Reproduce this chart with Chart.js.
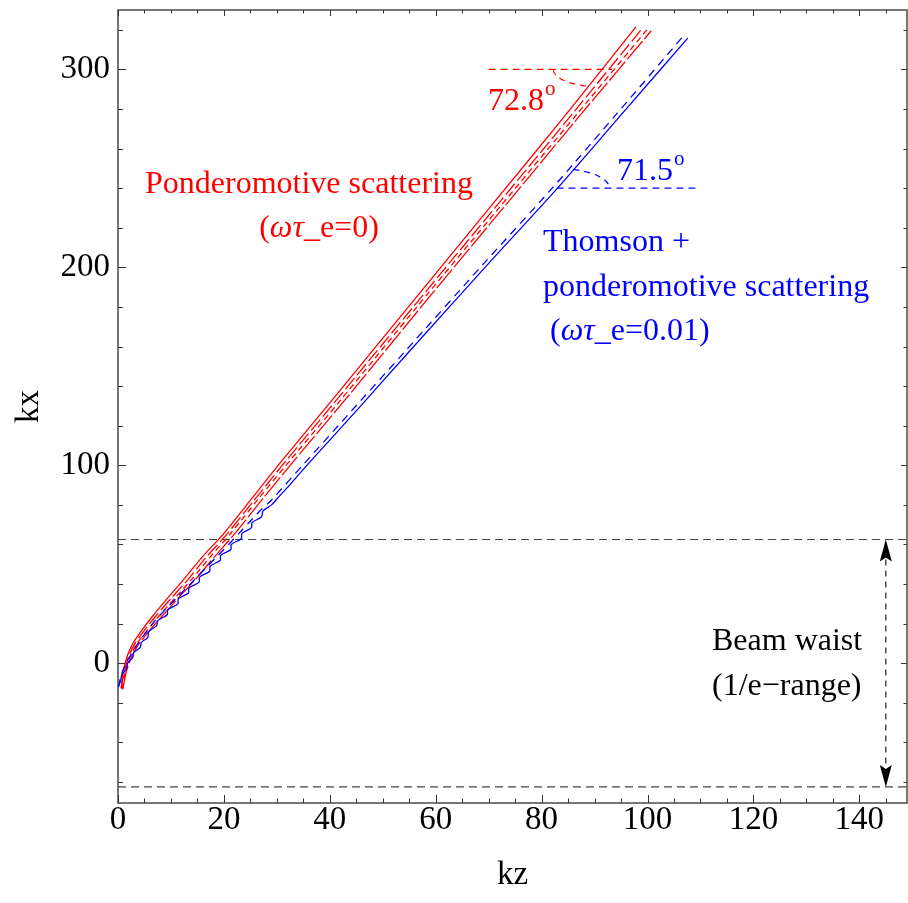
<!DOCTYPE html>
<html><head><meta charset="utf-8">
<script src="https://cdn.jsdelivr.net/npm/chart.js@4.4.0/dist/chart.umd.min.js"></script>
<style>html,body{margin:0;padding:0;background:#fff;}canvas{display:block}</style>
</head><body>
<canvas id="c" width="908" height="903"></canvas>
<script>
// ---- data (kz, kx) ----
const redSolidKx = [-12.5,-4,4,10,16,24,33,42,54,65,83,102.5,131.5,180.5,229.5,278.5,321.5];
const redSolidKz = [0.6,1.0,1.8,2.8,4.3,6.6,9.4,12.3,16,19.8,25.2,31,40,55,70,85,97.8];
const redDashAKx = [-12.8,-4,4,10,16,24,33,42,54,65,83,102.5,131.5,180.5,229.5,278.5,321];
const redDashAKz = [0.6,1.2,2.1,3.2,4.8,7.2,10.1,13.1,16.8,20.5,25.9,31.8,40.8,55.9,71.0,86.1,99.1];
const redDashBKx = [-13,-4,4,10,16,24,33,42,54,65,83,102.5,131.5,180.5,229.5,278.5,320];
const redDashBKz = [0.8,1.4,2.4,3.6,5.3,7.8,10.8,13.8,17.5,21.1,26.5,32.5,41.6,56.6,71.8,87.0,99.9];
const redDashCKx = [-13.2,-4,4,10,16,24,33,42,54,65,83,102.5,131.5,180.5,229.5,278.5,319.5];
const redDashCKz = [0.9,1.6,2.7,4.0,5.8,8.4,11.4,14.5,18.3,21.9,27.3,33.3,42.4,57.4,72.6,87.8,100.7];
const blueSolidKx = [-12,-9,-6,-3,0,3,5.5,8,10.5,13,16,19,21.5,24.5,27,30,32.5,35.5,38,41,43.5,46.5,49,52,54.5,57.5,60,63,65.5,68.5,71,74,77,80,83,90,101,127.5,157.5,202,240,277,315.8];
const blueSolidKz = [0,0.5,0.7,1.6,1.8,2.8,3.0,4.2,4.4,5.6,5.8,7.3,7.5,9.3,9.4,11.3,11.4,13.3,13.4,15.3,15.4,17.3,17.4,19.3,19.4,21.3,21.4,23.3,23.4,25.2,25.3,27.1,27.4,29.0,30.0,32.4,36.0,45,55,70,83,95,107.6];
const blueDashKx = [-12,-6,0,5,10.5,16,21.5,27,32.5,38,43.5,49,54.5,60,65.5,71,77,82.5,101,127.5,157.5,202,240,277,317.3];
const blueDashKz = [0.1,0.6,1.5,2.6,3.9,5.4,7.0,8.9,10.9,12.9,14.9,16.9,18.9,20.9,22.8,24.7,26.8,29.0,35.2,44.1,54.2,69.1,82,94,106.9];
const beamWaist = [-62.5, 62.5];
const beamArrowKz = 145;
const redAngle = {kx:300, from:70, to:93.3, center:91.0, radius:8.8, deg:72.8};
const blueAngle = {kx:240, from:82.8, to:109.3, center:82.8, radius:10, deg:71.5};
const xTicks = [0,20,40,60,80,100,120,140];
const yTicks = [0,100,200,300];

const pts = (kz, kx) => kz.map((v,i)=>({x:v, y:kx[i]}));
const RED='#ff0000', BLUE='#0000ff';
const SERIF='"Liberation Serif","Times New Roman",serif';

function line(data,color,dash,t){
  return {data, showLine:true, borderColor:color, borderWidth:1.3, borderDash:dash||[], pointRadius:0, tension:(t===undefined?0.25:t), fill:false};
}

const datasets = [
  line(pts(blueSolidKz, blueSolidKx), BLUE, [], 0.3),
  line(pts(blueDashKz, blueDashKx), BLUE, [8,6]),
  line(pts(redSolidKz, redSolidKx), RED),
  line(pts(redDashAKz, redDashAKx), RED, [14,4]),
  line(pts(redDashBKz, redDashBKx), RED, [6,4]),
  line(pts(redDashCKz, redDashCKx), RED, [24,3]),
  {data:[{x:0,y:beamWaist[1]},{x:149,y:beamWaist[1]}], showLine:true, borderColor:'#444', borderWidth:1.2, borderDash:[8,5], pointRadius:0},
  {data:[{x:0,y:beamWaist[0]},{x:149,y:beamWaist[0]}], showLine:true, borderColor:'#444', borderWidth:1.2, borderDash:[8,5], pointRadius:0},
  {data:[{x:redAngle.from,y:redAngle.kx},{x:redAngle.to,y:redAngle.kx}], showLine:true, borderColor:RED, borderWidth:1.2, borderDash:[7,5], pointRadius:0},
  {data:[{x:blueAngle.from,y:blueAngle.kx},{x:blueAngle.to,y:blueAngle.kx}], showLine:true, borderColor:BLUE, borderWidth:1.2, borderDash:[7,5], pointRadius:0}
];

const deco = {
  id:'deco',
  beforeDatasetsDraw(chart){
    const {ctx, chartArea:a, scales:{x,y}} = chart;
    ctx.save();
    ctx.strokeStyle='#555'; ctx.lineWidth=1.6;
    ctx.strokeRect(a.left, a.top, a.right-a.left, a.bottom-a.top);
    ctx.strokeStyle='#333'; ctx.lineWidth=1;
    ctx.beginPath();
    for(let v=0; v<=149; v+=5){
      const px=Math.round(x.getPixelForValue(v))+0.5;
      const major = v%20===0;
      const lb = major?8:4.5, lt = major?6:3.5;
      ctx.moveTo(px,a.bottom); ctx.lineTo(px,a.bottom-lb);
      ctx.moveTo(px,a.top); ctx.lineTo(px,a.top+lt);
    }
    for(let v=-60; v<=330; v+=20){
      const py=Math.round(y.getPixelForValue(v))+0.5;
      const major = v%100===0;
      const l = major?8:5;
      ctx.moveTo(a.left,py); ctx.lineTo(a.left+l,py);
      ctx.moveTo(a.right,py); ctx.lineTo(a.right-(major?6:3.5),py);
    }
    ctx.stroke();
    ctx.restore();
  },
  afterDatasetsDraw(chart){
    const {ctx, scales:{x,y}} = chart;
    const sx = x.getPixelForValue(1)-x.getPixelForValue(0);
    const sy = y.getPixelForValue(0)-y.getPixelForValue(1);
    ctx.save();
    ctx.lineWidth=1.2; ctx.setLineDash([6,5]);
    ctx.strokeStyle=RED;
    ctx.beginPath();
    ctx.ellipse(x.getPixelForValue(redAngle.center), y.getPixelForValue(redAngle.kx), redAngle.radius*sx, redAngle.radius*sy, 0, (180-redAngle.deg)*Math.PI/180, Math.PI);
    ctx.stroke();
    ctx.strokeStyle=BLUE;
    ctx.beginPath();
    ctx.ellipse(x.getPixelForValue(blueAngle.center), y.getPixelForValue(blueAngle.kx), blueAngle.radius*sx, blueAngle.radius*sy, 0, -blueAngle.deg*Math.PI/180, 0);
    ctx.stroke();
    const ax = x.getPixelForValue(beamArrowKz);
    const yt = y.getPixelForValue(beamWaist[1]), yb = y.getPixelForValue(beamWaist[0]);
    ctx.strokeStyle='#222'; ctx.lineWidth=1.2; ctx.setLineDash([6,5]);
    ctx.beginPath(); ctx.moveTo(ax, yt+20); ctx.lineTo(ax, yb-20); ctx.stroke();
    ctx.setLineDash([]); ctx.fillStyle='#000';
    ctx.beginPath(); ctx.moveTo(ax,yt); ctx.lineTo(ax-6,yt+22); ctx.lineTo(ax,yt+18); ctx.lineTo(ax+6,yt+22); ctx.closePath(); ctx.fill();
    ctx.beginPath(); ctx.moveTo(ax,yb); ctx.lineTo(ax-6,yb-22); ctx.lineTo(ax,yb-18); ctx.lineTo(ax+6,yb-22); ctx.closePath(); ctx.fill();
    ctx.textBaseline='alphabetic';
    function runs(parts, cx, by, color, align){
      let w=0;
      parts.forEach(p=>{ctx.font=(p.it?'italic ':'')+p.size+'px '+SERIF; w+=ctx.measureText(p.t).width;});
      let xx = align==='center'? cx-w/2 : cx;
      ctx.fillStyle=color; ctx.textAlign='left';
      parts.forEach(p=>{ctx.font=(p.it?'italic ':'')+p.size+'px '+SERIF; ctx.fillText(p.t, xx+(p.dx||0), by+(p.dy||0)); xx+=ctx.measureText(p.t).width+(p.dx||0);});
    }
    const S=32;
    runs([{t:'Ponderomotive scattering',size:S}], 145, 193, RED);
    runs([{t:'(',size:S},{t:'ωτ',size:S,it:true},{t:'_e=0)',size:S}], 319, 237, RED, 'center');
    runs([{t:'72.8',size:S},{t:'o',size:21,dy:-15,dx:1}], 488, 110, RED);
    runs([{t:'71.5',size:S},{t:'o',size:21,dy:-15,dx:1}], 617, 180, BLUE);
    runs([{t:'Thomson +',size:S}], 543, 251, BLUE);
    runs([{t:'ponderomotive scattering',size:S}], 543, 296, BLUE);
    runs([{t:'(',size:S},{t:'ωτ',size:S,it:true},{t:'_e=0.01)',size:S}], 550, 340, BLUE);
    runs([{t:'Beam waist',size:S}], 712, 650, '#000');
    runs([{t:'(1/e\u2212range)',size:S}], 712, 695, '#000');
    ctx.restore();
  }
};

new Chart(document.getElementById('c'), {
  type:'scatter',
  data:{datasets},
  options:{
    animation:false, responsive:false, devicePixelRatio:1,
    layout:{padding:{top:10,right:1,left:0,bottom:0}},
    plugins:{legend:{display:false}, tooltip:{enabled:false}},
    scales:{
      x:{type:'linear', min:0, max:149,
        grid:{display:false, drawTicks:false}, border:{display:false},
        afterBuildTicks(s){ s.ticks = xTicks.map(v=>({value:v})); },
        ticks:{font:{family:SERIF, size:33}, color:'#000', padding:-2, maxRotation:0, autoSkip:false},
        title:{display:true, text:'kz', font:{family:SERIF, size:33}, color:'#000', padding:{top:0,bottom:8}},
        afterFit(s){ s.height=100; s.paddingLeft=0; s.paddingRight=0; }
      },
      y:{type:'linear', min:-70.6, max:330,
        grid:{display:false, drawTicks:false}, border:{display:false},
        afterBuildTicks(s){ s.ticks = yTicks.map(v=>({value:v})); },
        ticks:{font:{family:SERIF, size:33}, color:'#000', padding:8, autoSkip:false},
        title:{display:true, text:'kx', font:{family:SERIF, size:33}, color:'#000', padding:{top:10,bottom:0}},
        afterFit(s){ s.width=118; s.paddingTop=0; s.paddingBottom=0; }
      }
    }
  },
  plugins:[deco]
});
</script>
</body></html>
